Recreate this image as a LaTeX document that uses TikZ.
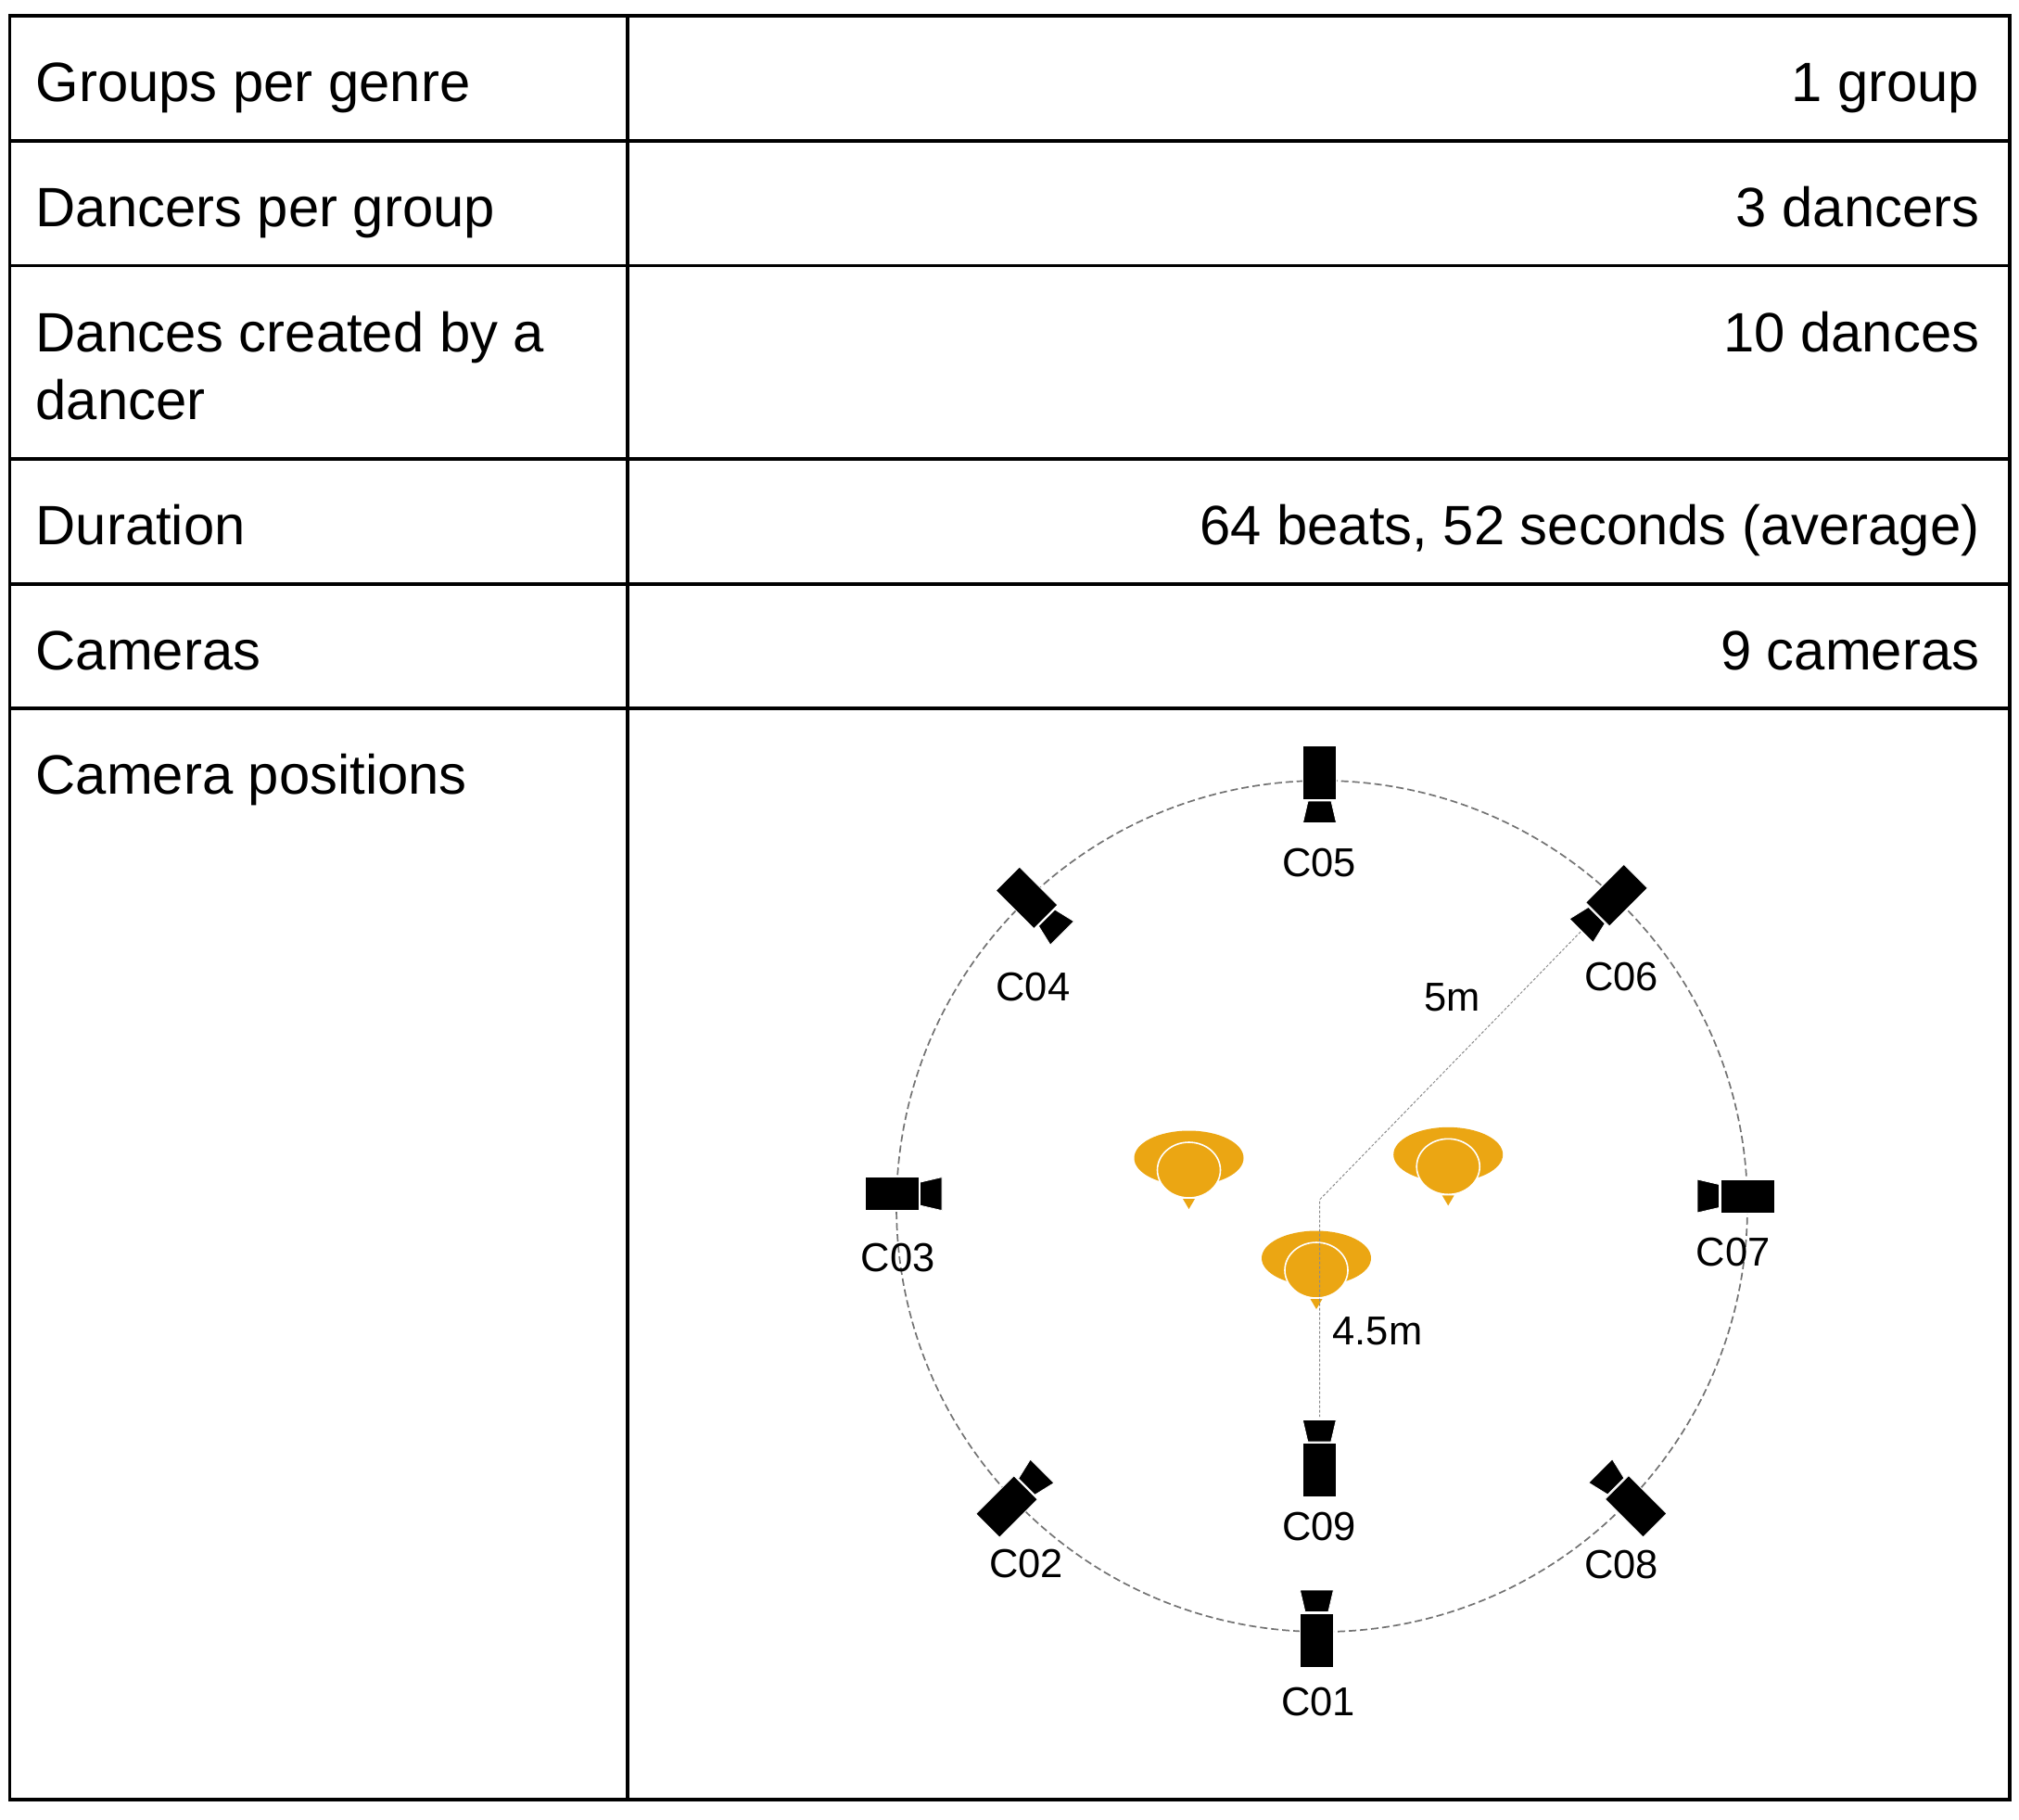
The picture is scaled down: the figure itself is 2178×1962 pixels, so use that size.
\documentclass[tikz,border=0pt]{standalone}
\usepackage{fontspec}
\setmainfont{Liberation Sans}
\definecolor{dancerorange}{HTML}{EBA613}
\begin{document}
\begin{tikzpicture}[x=1pt, y=-1pt,
    camera/.pic={
      \fill [black, draw=white, line width=0.8pt] (-29,-18) rectangle (29,18);
      \fill [black, draw=white, line width=0.8pt] (30.5,-12.5) -- (54,-18) -- (54,18) -- (30.5,12.5) -- cycle;
    },
    dancer/.pic={
      \fill [dancerorange] (0,0) ellipse [x radius=59, y radius=29.5];
      \fill [dancerorange, draw=white, line width=1.6pt] (0,13) ellipse [x radius=34, y radius=30];
      \fill [dancerorange] (-6.5,44) -- (6.5,44) -- (0,55) -- cycle;
    }]
        \tikzstyle{rule} = [draw, black, line width=3.4pt]
        \tikzstyle{celltext} = [inner sep=0pt, font=\fontsize{59.8}{73.6}\selectfont]
        \tikzstyle{left cell} = [celltext, anchor=base west, align=left]
        \tikzstyle{right cell} = [celltext, anchor=base east]
        \tikzstyle{camlabel} = [inner sep=0pt, anchor=base, font=\fontsize{43.5}{50}\selectfont]
        \tikzstyle{ring} = [draw=black!55, line width=1.7pt, dash pattern=on 8pt off 4pt]
        \tikzstyle{distline} = [draw=black!45, line width=1pt, dash pattern=on 3pt off 2pt]

        \useasboundingbox (0,0) rectangle (2178,1962);

        % table
        \draw [rule] (10.5,17) rectangle (2168,1941);
        \draw [rule] (677,17) -- (677,1941);
        \draw [rule] (10.5,152) -- (2168,152);
        \draw [rule] (10.5,286.5) -- (2168,286.5);
        \draw [rule] (10.5,495) -- (2168,495);
        \draw [rule] (10.5,630) -- (2168,630);
        \draw [rule] (10.5,764) -- (2168,764);

        \node [left cell] (groups) at (38.5,109.5) {Groups per genre};
        \node [left cell] (dancers) at (38.5,244.5) {Dancers per group};
        \node [left cell] (created) at (38.5,379) {Dances created by a};
        \node [left cell] (created2) at (38.5,452.5) {dancer};
        \node [left cell] (duration) at (38.5,587) {Duration};
        \node [left cell] (cameras) at (38.5,722) {Cameras};
        \node [left cell] (positions) at (38.5,856.5) {Camera positions};

        \node [right cell] (groups-val) at (2135.5,109.5) {1 group};
        \node [right cell] (dancers-val) at (2135.5,244.5) {3 dancers};
        \node [right cell] (created-val) at (2135.5,379) {10 dances};
        \node [right cell] (duration-val) at (2135.5,587) {64 beats, 52 seconds (average)};
        \node [right cell] (cameras-val) at (2135.5,722) {9 cameras};

        % camera ring
        \draw [ring] (1426,1301) circle [radius=459];

        \pic at (1423.5,833.5) [rotate=-90] {camera};
        \pic at (1107.6,968.3) [rotate=-45] {camera};
        \pic at (962,1287.6) {camera};
        \pic at (1086,1625) [rotate=45] {camera};
        \pic at (1420.4,1769) [rotate=90] {camera};
        \pic at (1423.3,1585.5) [rotate=90] {camera};
        \pic at (1764.7,1624.7) [rotate=135] {camera};
        \pic at (1885,1290) [rotate=180] {camera};
        \pic at (1744,965.6) [rotate=225] {camera};

        \node [camlabel] (c01) at (1422,1850) {C01};
        \node [camlabel] (c02) at (1107,1701) {C02};
        \node [camlabel] (c03) at (968.5,1371) {C03};
        \node [camlabel] (c04) at (1114.3,1079) {C04};
        \node [camlabel] (c05) at (1423,945) {C05};
        \node [camlabel] (c06) at (1749,1068) {C06};
        \node [camlabel] (c07) at (1869.5,1365) {C07};
        \node [camlabel] (c08) at (1749,1702) {C08};
        \node [camlabel] (c09) at (1423,1661) {C09};

        % dancers
        \pic at (1282.5,1249) {dancer};
        \pic at (1562.2,1245.3) {dancer};
        \pic at (1420,1357) {dancer};

        % distances
        \coordinate (mid) at (1423.5,1294);
        \coordinate (end-c06) at (1705,1005);
        \coordinate (end-c09) at (1423.5,1528);
        \draw [distline] (end-c06) -- (mid) -- (end-c09);
        \node [camlabel] (five) at (1567,1090) {5m};
        \node [camlabel] (fourhalf) at (1486,1450.5) {4.5m};
    \end{tikzpicture}
\end{document}
